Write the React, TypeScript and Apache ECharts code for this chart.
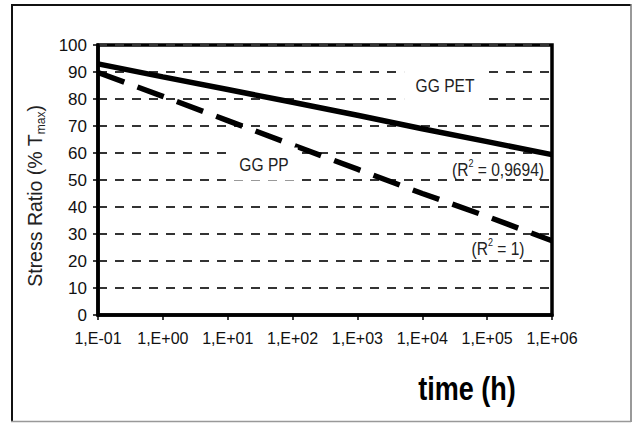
import React, { useEffect, useRef } from "react";
import * as echarts from "echarts";

const timeHours = [0.1, 1, 10, 100, 1000, 10000, 100000, 1000000];
const xTickLabels = ["1,E-01", "1,E+00", "1,E+01", "1,E+02", "1,E+03", "1,E+04", "1,E+05", "1,E+06"];
const petValues = [93, 88.2, 83.5, 78.8, 74, 69, 64.2, 59.4];
const ppValues = [89.8, 81, 72, 63, 54, 45, 36.5, 27.5];
const yTicks = [0, 10, 20, 30, 40, 50, 60, 70, 80, 90, 100];

const SANS = "'Liberation Sans', Arial, sans-serif";
const NARROW_SCALE = 0.82;

export default function App() {
  const ref = useRef<HTMLDivElement>(null);
  useEffect(() => {
    if (!ref.current) return;
    const chart = echarts.init(ref.current, null, { renderer: "svg" });
    const labelFor = (v: number) => {
      const i = timeHours.findIndex((t) => Math.abs(Math.log10(t) - Math.log10(v)) < 1e-6);
      return i >= 0 ? xTickLabels[i] : "";
    };
    const richR = {
      a: { fontFamily: SANS, fontSize: 19, fill: "#222", color: "#222", lineHeight: 22 },
      s: { fontFamily: SANS, fontSize: 11, fill: "#222", color: "#222", verticalAlign: "top", lineHeight: 22 },
    };
    chart.setOption({
      animation: false,
      backgroundColor: "#ffffff",
      grid: {
        left: 98,
        top: 45,
        right: 81,
        bottom: 108,
        show: true,
        borderColor: "#000",
        borderWidth: 3.5,
        backgroundColor: "transparent",
      },
      xAxis: {
        type: "log",
        logBase: 10,
        min: timeHours[0],
        max: timeHours[timeHours.length - 1],
        axisLine: { show: true, lineStyle: { color: "#000", width: 3.5 } },
        axisTick: { show: true, inside: false, length: 5, lineStyle: { color: "#000", width: 1.5 } },
        minorTick: { show: false },
        splitLine: { show: false },
        axisLabel: {
          formatter: (v: number) => labelFor(v),
          color: "#111",
          fontFamily: SANS,
          fontSize: 16,
          margin: 15,
        },
      },
      yAxis: {
        type: "value",
        min: yTicks[0],
        max: yTicks[yTicks.length - 1],
        interval: 10,
        axisLine: { show: true, lineStyle: { color: "#000", width: 3.5 } },
        axisTick: { show: true, inside: false, length: 5, lineStyle: { color: "#000", width: 1.5 } },
        splitLine: { show: true, lineStyle: { color: "#333", width: 2, type: [9, 8] } },
        axisLabel: {
          color: "#111",
          fontFamily: SANS,
          fontSize: 17,
          margin: 11,
        },
      },
      series: [
        {
          name: "GG PET",
          type: "line",
          data: timeHours.map((t, i) => [t, petValues[i]]),
          showSymbol: false,
          lineStyle: { color: "#000", width: 5.5 },
          z: 5,
        },
        {
          name: "GG PP",
          type: "line",
          data: timeHours.map((t, i) => [t, ppValues[i]]),
          showSymbol: false,
          lineStyle: { color: "#000", width: 5.5, type: [28, 14] },
          z: 5,
        },
      ],
      graphic: [
        { type: "line", z: 100, shape: { x1: 12, y1: 4, x2: 12, y2: 422 }, style: { stroke: "#111", lineWidth: 2 } },
        { type: "line", z: 100, shape: { x1: 11, y1: 5, x2: 631, y2: 5 }, style: { stroke: "#111", lineWidth: 2 } },
        { type: "line", z: 100, shape: { x1: 631, y1: 4, x2: 631, y2: 422 }, style: { stroke: "#777", lineWidth: 1.5 } },
        { type: "line", z: 100, shape: { x1: 11, y1: 421.5, x2: 631, y2: 421.5 }, style: { stroke: "#999", lineWidth: 1.5 } },
        {
          type: "text",
          z: 100,
          x: 445,
          y: 85,
          scaleX: NARROW_SCALE,
          style: {
            text: "GG PET",
            fontFamily: SANS,
            fontSize: 19,
            fill: "#222",
            align: "center",
            verticalAlign: "middle",
            backgroundColor: "#fff",
            padding: [7, 14],
          },
        },
        {
          type: "text",
          z: 100,
          x: 264,
          y: 164,
          scaleX: NARROW_SCALE,
          style: {
            text: "GG PP",
            fontFamily: SANS,
            fontSize: 19,
            fill: "#222",
            align: "center",
            verticalAlign: "middle",
            backgroundColor: "#fff",
            padding: [7, 11],
          },
        },
        {
          type: "text",
          z: 100,
          x: 498,
          y: 169,
          scaleX: NARROW_SCALE,
          style: { text: "{a|(R}{s|2}{a| = 0,9694)}", align: "center", verticalAlign: "middle", rich: richR },
        },
        {
          type: "text",
          z: 100,
          x: 498,
          y: 248,
          scaleX: NARROW_SCALE,
          style: { text: "{a|(R}{s|2}{a| = 1)}", align: "center", verticalAlign: "middle", rich: richR },
        },
        {
          type: "text",
          z: 100,
          x: 467,
          y: 389,
          scaleX: NARROW_SCALE,
          style: {
            text: "time (h)",
            fontFamily: SANS,
            fontSize: 33,
            fontWeight: "bold",
            fill: "#000",
            align: "center",
            verticalAlign: "middle",
          },
        },
        {
          type: "text",
          z: 100,
          x: 35,
          y: 196,
          rotation: Math.PI / 2,
          style: {
            text: "{a|Stress Ratio (% T}{s|max}{a|)}",
            align: "center",
            verticalAlign: "middle",
            rich: {
              a: { fontFamily: SANS, fontSize: 19.5, fill: "#222", color: "#222", lineHeight: 24 },
              s: { fontFamily: SANS, fontSize: 12, fill: "#222", color: "#222", verticalAlign: "bottom", lineHeight: 24 },
            },
          },
        },
      ],
    });
    return () => chart.dispose();
  }, []);
  return (
    <div
      ref={ref}
      style={{ position: "absolute", left: 0, top: 0, width: 633, height: 423 }}
    />
  );
}
